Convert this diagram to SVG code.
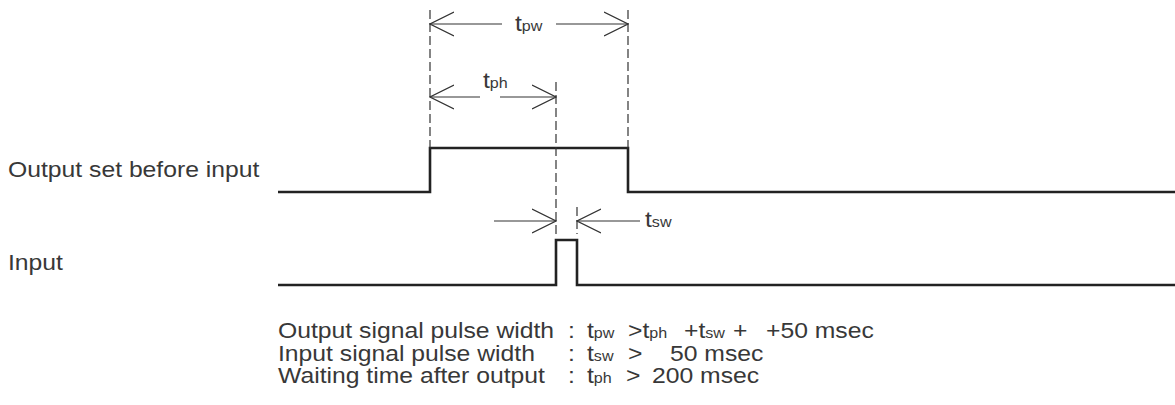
<svg xmlns="http://www.w3.org/2000/svg" width="1175" height="405" viewBox="0 0 1175 405">
<style>
text{font-family:"Liberation Sans",Arial,sans-serif;fill:#383838;font-size:21.5px}
.s{font-size:14px}
.sig{fill:none;stroke:#222;stroke-width:2.6}
.dash{fill:none;stroke:#333;stroke-width:1.2;stroke-dasharray:9 4}
.dim{fill:none;stroke:#333;stroke-width:1.2}
</style>
<defs>
<marker id="ah" viewBox="0 0 25 26" markerWidth="25" markerHeight="26" refX="24" refY="13" orient="auto" markerUnits="userSpaceOnUse">
<path d="M0 1 L24 13 L0 25" fill="none" stroke="#333" stroke-width="1.2"/>
</marker>
</defs>
<g id="label-output"><text transform="matrix(1.15 0 0 1 8 177)">Output set before input</text></g>
<g id="label-input"><text transform="matrix(1.15 0 0 1 8 270)">Input</text></g>
<g id="signal-output"><path class="sig" d="M278 192 H430 V148 H628 V192 H1175"/></g>
<g id="signal-input"><path class="sig" d="M278 285 H556 V240 H577 V285 H1175"/></g>
<g id="connectors">
<path class="dash" d="M430 10 V148"/>
<path class="dash" d="M628 10 V148"/>
<path class="dash" d="M556 82 V234"/>
<path class="dash" d="M577 207 V234"/>
<path class="dim" d="M502 24 H430" marker-end="url(#ah)"/>
<path class="dim" d="M556 24 H628" marker-end="url(#ah)"/>
<path class="dim" d="M480 97 H430" marker-end="url(#ah)"/>
<path class="dim" d="M500 97 H556" marker-end="url(#ah)"/>
<path class="dim" d="M494 221 H556" marker-end="url(#ah)"/>
<path class="dim" d="M640 221 H577" marker-end="url(#ah)"/>
</g>
<g id="label-tpw"><text transform="matrix(1.15 0 0 1 515 31)">t<tspan class="s">pw</tspan></text></g>
<g id="label-tph"><text transform="matrix(1.15 0 0 1 483 88)">t<tspan class="s">ph</tspan></text></g>
<g id="label-tsw"><text transform="matrix(1.15 0 0 1 645 227)">t<tspan class="s">sw</tspan></text></g>
<g id="conditions">
<text transform="matrix(1.15 0 0 1 278 338)">Output signal pulse width</text>
<text transform="matrix(1.15 0 0 1 568 338)">:</text>
<text transform="matrix(1.15 0 0 1 587 338)">t<tspan class="s">pw</tspan></text>
<text transform="matrix(1.15 0 0 1 628 338)">&gt;t<tspan class="s">ph</tspan></text>
<text transform="matrix(1.15 0 0 1 684 338)">+t<tspan class="s">sw</tspan></text>
<text transform="matrix(1.15 0 0 1 733 338)">+</text>
<text transform="matrix(1.15 0 0 1 766 338)">+50 msec</text>
<text transform="matrix(1.15 0 0 1 278 360.5)">Input signal pulse width</text>
<text transform="matrix(1.15 0 0 1 568 360.5)">:</text>
<text transform="matrix(1.15 0 0 1 587 360.5)">t<tspan class="s">sw</tspan></text>
<text transform="matrix(1.15 0 0 1 628 360.5)">&gt;</text>
<text transform="matrix(1.15 0 0 1 670 360.5)">50 msec</text>
<text transform="matrix(1.15 0 0 1 278 383)">Waiting time after output</text>
<text transform="matrix(1.15 0 0 1 568 383)">:</text>
<text transform="matrix(1.15 0 0 1 587 383)">t<tspan class="s">ph</tspan></text>
<text transform="matrix(1.15 0 0 1 626 383)">&gt;</text>
<text transform="matrix(1.15 0 0 1 652 383)">200 msec</text>
</g>
</svg>
